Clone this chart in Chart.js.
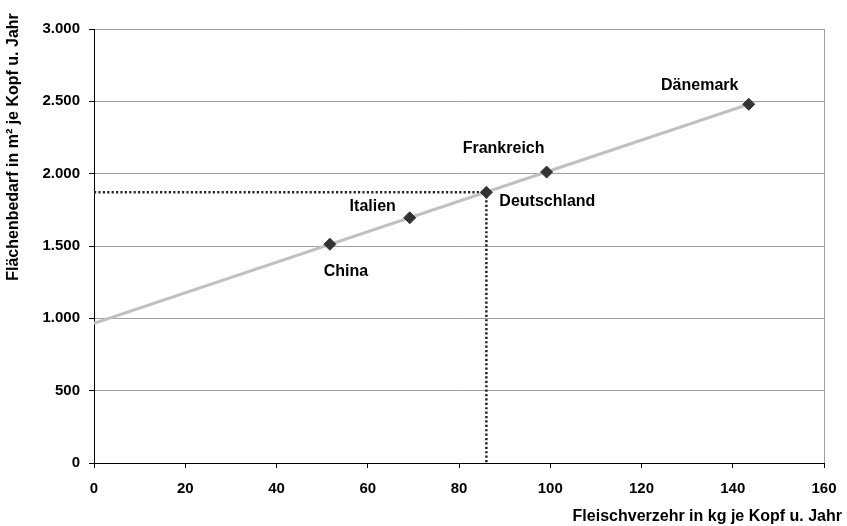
<!DOCTYPE html>
<html>
<head>
<meta charset="utf-8">
<script src="https://cdn.jsdelivr.net/npm/chart.js@4/dist/chart.umd.min.js"></script>
<style>
   html, body { margin: 0; padding: 0; background: #fff; }
   #wrap { width: 847px; height: 526px; }
</style>
</head>
<body>
<div id="wrap"><canvas id="meatChart" width="847" height="526"></canvas></div>
<script>
/* -----------------------------------------------------------------------
   data
   ------------------------------------------------------------------------*/
const countries = ["China", "Italien", "Deutschland", "Frankreich", "Dänemark"];
const meatKg = [51.7, 69.2, 86.0, 99.2, 143.5];
const areaM2 = [1512, 1695, 1871, 2011, 2480];
const trendX = [0, 143.5];
const trendY = [965, 2480];
const refIdx = 2; // Deutschland, dotted guide lines

const xTitle = "Fleischverzehr in kg je Kopf u. Jahr";
const yTitle = "Flächenbedarf in m² je Kopf u. Jahr";

/* -----------------------------------------------------------------------
   label offsets (px, from marker)
   ------------------------------------------------------------------------*/
const labelOffsets = [
   [16, 27], [-37, -11], [61, 9], [-43, -23], [-49, -19],
];

const FONT = "'Liberation Sans', Arial, sans-serif";
const GRID = "#a0a0a0";

function fmtDe(v) {
   return String(v).replace(/\B(?=(\d{3})+(?!\d))/g, ".");
}

const textPlugin = {
   id: "textPlugin",
   afterDraw: function(chart) {
      const ctx = chart.ctx;
      const xs = chart.scales.x;
      const ys = chart.scales.y;
      ctx.save();
      ctx.fillStyle = "#000";
      ctx.font = "bold 16px " + FONT;
      ctx.textAlign = "center";
      ctx.textBaseline = "middle";
      countries.forEach(function(name, i) {
         const px = xs.getPixelForValue(meatKg[i]) + labelOffsets[i][0];
         const py = ys.getPixelForValue(areaM2[i]) + labelOffsets[i][1];
         ctx.fillText(name, px, py);
      });

      // x axis title, right aligned
      ctx.textAlign = "right";
      ctx.textBaseline = "alphabetic";
      ctx.fillText(xTitle, 842, 521);

      // y axis title
      ctx.translate(14, 147);
      ctx.rotate(-Math.PI / 2);
      ctx.textAlign = "center";
      ctx.textBaseline = "middle";
      ctx.fillText(yTitle, 0, 0);
      ctx.restore();
   }
};

const points = meatKg.map(function(x, i) { return {x: x, y: areaM2[i]}; });
const trend = trendX.map(function(x, i) { return {x: x, y: trendY[i]}; });
const guide = [
   {x: 0, y: areaM2[refIdx]},
   {x: meatKg[refIdx], y: areaM2[refIdx]},
   {x: meatKg[refIdx], y: 0},
];

const config = {
   type: "scatter",
   data: {
      datasets: [
         {
            label: "Länder",
            data: points,
            showLine: false,
            pointStyle: "rectRot",
            pointRadius: 6,
            pointBackgroundColor: "#333333",
            pointBorderColor: "#333333",
            pointBorderWidth: 1,
            order: 0,
         }, {
            label: "Trend",
            data: trend,
            showLine: true,
            borderColor: "#c0c0c0",
            borderWidth: 3,
            pointRadius: 0,
            order: 1,
         }, {
            label: "Deutschland",
            data: guide,
            showLine: true,
            borderColor: "#262626",
            borderWidth: 2.5,
            borderDash: [2.2, 2.2],
            pointRadius: 0,
            order: 2,
         }
      ]
   },
   options: {
      responsive: false,
      animation: false,
      layout: {
         padding: { top: 29, right: 23, left: 0, bottom: 0 }
      },
      plugins: {
         legend: { display: false },
         tooltip: { enabled: false },
      },
      scales: {
         x: {
            type: "linear",
            min: 0,
            max: 160,
            afterFit: function(scale) {
               scale.height = 63;
               scale.paddingLeft = 0;
               scale.paddingRight = 0;
            },
            border: { color: "#000", width: 1 },
            grid: {
               color: function(c) { return c.tick && c.tick.value === 160 ? GRID : "rgba(0,0,0,0)"; },
               tickColor: "#000",
               tickLength: 5,
            },
            ticks: {
               stepSize: 20,
               padding: 12,
               color: "#000",
               font: { family: FONT, size: 15, weight: "bold" },
            }
         },
         y: {
            type: "linear",
            min: 0,
            max: 3000,
            afterFit: function(scale) {
               scale.width = 94;
               scale.paddingTop = 0;
               scale.paddingBottom = 0;
            },
            border: { color: "#000", width: 1 },
            grid: {
               color: GRID,
               tickColor: "#000",
               tickLength: 5,
            },
            ticks: {
               stepSize: 500,
               padding: 9,
               color: "#000",
               font: { family: FONT, size: 15, weight: "bold" },
               callback: function(v) { return fmtDe(v); },
            }
         }
      }
   },
   plugins: [textPlugin]
};

const meatChart = new Chart(document.getElementById("meatChart"), config);
</script>
</body>
</html>
